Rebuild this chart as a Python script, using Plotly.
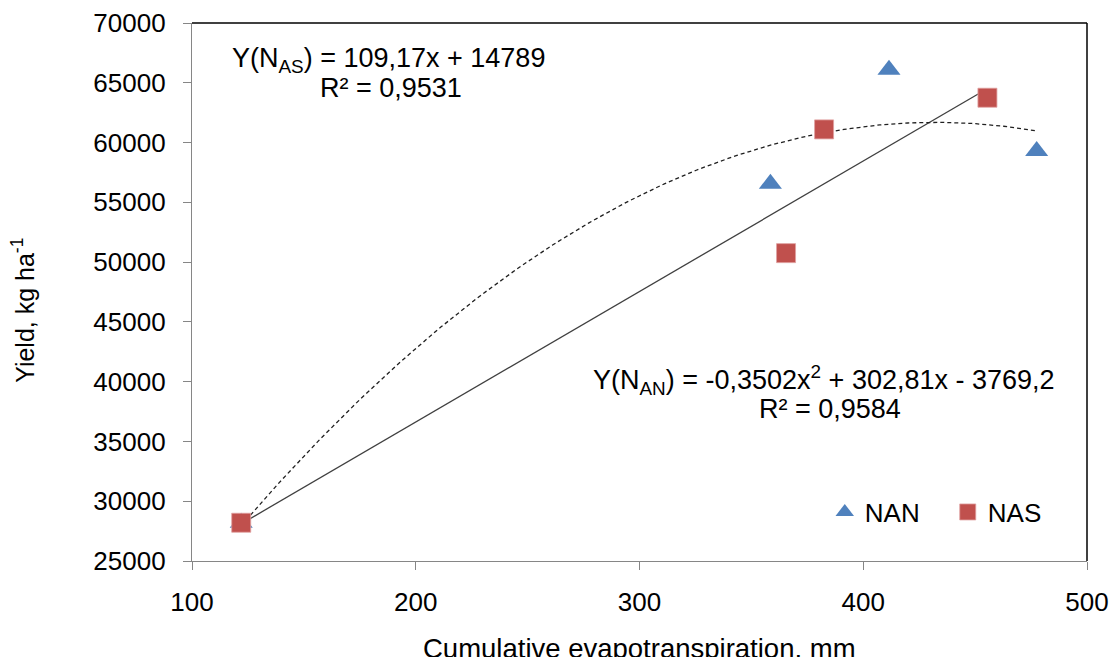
import numpy as np
import plotly.graph_objects as go

# ---- data ----
nan_x = [122, 358.5, 411.5, 477.5]
nan_y = [28200, 56550, 66100, 59300]
nas_x = [122, 365.5, 382.5, 455.5]
nas_y = [28200, 50750, 61100, 63750]

# trend-line coefficients as printed on the chart (highest power first)
nas_lin_coef = [109.17, 14789]
nan_quad_coef = [-0.3502, 302.81, -3769.2]
nas_fit_range = [122, 455]
nan_fit_range = [122, 477]

x_ticks = [100, 200, 300, 400, 500]
y_ticks = [25000, 30000, 35000, 40000, 45000, 50000, 55000, 60000, 65000, 70000]

FONT = "Liberation Sans, Arial, sans-serif"
BLUE = "#4F81BD"
RED = "#C0504D"

fig = go.Figure()

xl = np.linspace(nas_fit_range[0], nas_fit_range[1], 100)
fig.add_trace(go.Scatter(x=xl, y=np.polyval(nas_lin_coef, xl), mode="lines",
                         line=dict(color="#404040", width=1.3), showlegend=False,
                         hoverinfo="skip"))
xq = np.linspace(nan_fit_range[0], nan_fit_range[1], 200)
fig.add_trace(go.Scatter(x=xq, y=np.polyval(nan_quad_coef, xq), mode="lines",
                         line=dict(color="#202020", width=1.3, dash="4px,3px"),
                         showlegend=False, hoverinfo="skip"))

fig.add_trace(go.Scatter(x=nan_x, y=nan_y, mode="markers", name="NAN",
                         marker=dict(symbol="triangle-up", size=20, color=BLUE,
                                     line=dict(width=0))))
fig.add_trace(go.Scatter(x=nas_x, y=nas_y, mode="markers", name="NAS",
                         marker=dict(symbol="square", size=19, color=RED,
                                     line=dict(width=0.8, color="#E0A0A0"))))

axis_common = dict(showgrid=False, zeroline=False, showline=True,
                   linecolor="#868686", linewidth=1.3, automargin=False,
                   ticks="outside", ticklen=8, tickcolor="#868686", tickwidth=1.3,
                   tickfont=dict(family=FONT, size=26, color="#000000"))

fig.update_xaxes(range=[100, 500], tickvals=x_ticks, ticklabelstandoff=10,
                 **axis_common)
fig.update_yaxes(range=[25000, 70000], tickvals=y_ticks, tickformat="d",
                 ticklabelstandoff=12, **axis_common)

# frame top & right
fig.add_shape(type="line", xref="paper", yref="paper", x0=0, x1=1, y0=1, y1=1,
              line=dict(color="#000000", width=1.5))
fig.add_shape(type="line", xref="paper", yref="paper", x0=1, x1=1, y0=0, y1=1,
              line=dict(color="#000000", width=1.5))

# axis titles placed like the reference
fig.add_annotation(xref="paper", yref="paper", x=0.5, y=-0.163,
                   text="Cumulative evapotranspiration, mm",
                   showarrow=False, xanchor="center", yanchor="middle",
                   font=dict(family=FONT, size=27.5, color="#000000"))
fig.add_annotation(xref="paper", yref="paper", x=-0.1888, y=0.465,
                   text="Yield, kg ha<sup>-1</sup>", textangle=-90,
                   showarrow=False, xanchor="center", yanchor="middle",
                   font=dict(family=FONT, size=25, color="#000000"))

afont = dict(family=FONT, size=27, color="#000000")
fig.add_annotation(xref="paper", yref="paper", x=0.219, y=0.931,
                   text="Y(N<sub>AS</sub>) = 109,17x + 14789",
                   showarrow=False, xanchor="center", yanchor="middle", font=afont)
fig.add_annotation(xref="paper", yref="paper", x=0.222, y=0.879,
                   text="R² = 0,9531",
                   showarrow=False, xanchor="center", yanchor="middle", font=afont)
fig.add_annotation(xref="paper", yref="paper", x=0.706, y=0.3364,
                   text="Y(N<sub>AN</sub>) = -0,3502x<sup>2</sup> + 302,81x - 3769,2",
                   showarrow=False, xanchor="center", yanchor="middle", font=afont)
fig.add_annotation(xref="paper", yref="paper", x=0.713, y=0.283,
                   text="R² = 0,9584",
                   showarrow=False, xanchor="center", yanchor="middle", font=afont)

fig.update_layout(
    width=1113, height=657,
    margin=dict(l=192, r=26, t=23, b=96, autoexpand=False),
    paper_bgcolor="white", plot_bgcolor="white",
    font=dict(family=FONT, color="#000000"),
    legend=dict(orientation="h", x=0.707, y=0.091, xanchor="left", yanchor="middle",
                font=dict(family=FONT, size=26, color="#000000"),
                bgcolor="rgba(0,0,0,0)", itemwidth=30, entrywidth=78,
                traceorder="normal"),
)

fig.write_html("out.html", config={"displayModeBar": False},
               post_script="document.body.style.margin='0';document.body.style.overflow='hidden';")
